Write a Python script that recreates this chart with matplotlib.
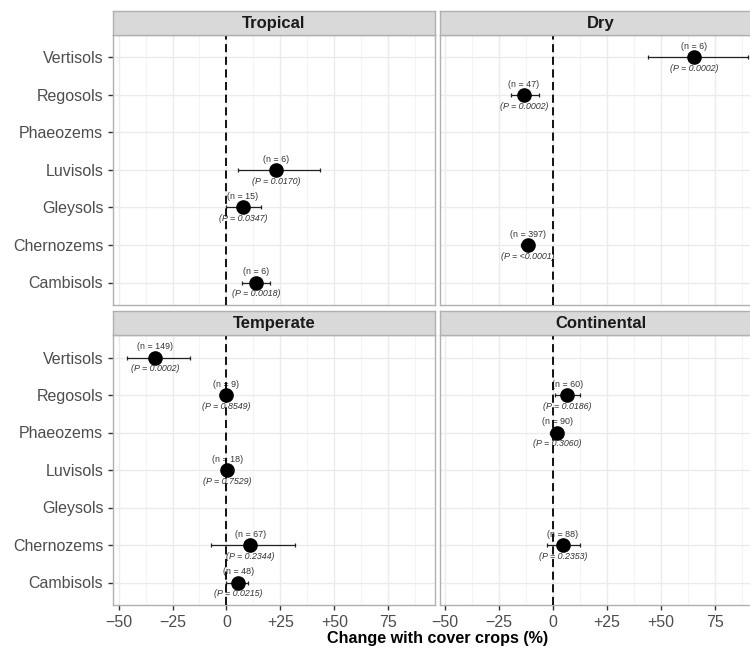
import numpy as np
import pandas as pd
import matplotlib
matplotlib.use("Agg")
import matplotlib.pyplot as plt
from matplotlib.ticker import FixedLocator

plt.rcParams["font.family"] = ["Liberation Sans", "DejaVu Sans"]

# ── Data ──────────────────────────────────────────────────────────────────────
CLIMATES = ["Tropical", "Dry", "Temperate", "Continental"]
SOILS = ["Cambisols", "Chernozems", "Gleysols", "Luvisols",
         "Phaeozems", "Regosols", "Vertisols"]          # bottom -> top

climate = ["Tropical", "Tropical", "Tropical",
           "Dry", "Dry", "Dry",
           "Temperate", "Temperate", "Temperate", "Temperate", "Temperate",
           "Continental", "Continental", "Continental"]
soil = ["Luvisols", "Gleysols", "Cambisols",
        "Vertisols", "Regosols", "Chernozems",
        "Vertisols", "Regosols", "Luvisols", "Chernozems", "Cambisols",
        "Regosols", "Phaeozems", "Chernozems"]
change = [23.2, 7.7, 13.9,
          65.4, -13.5, -11.6,
          -33.0, -0.3, 0.3, 11.1, 5.4,
          6.7, 2.0, 4.6]
ci_low = [5.4, 0.0, 7.4,
          44.1, -19.6, -14.7,
          -46.1, -3.0, -2.0, -7.0, -0.3,
          0.8, -1.5, -3.0]
ci_high = [43.3, 16.2, 20.4,
           90.2, -6.6, -9.3,
           -17.0, 2.5, 2.5, 31.7, 10.0,
           12.4, 4.6, 12.4]
n_obs = [6, 15, 6,
         6, 47, 397,
         149, 9, 18, 67, 48,
         60, 90, 88]
p_text = ["0.0170", "0.0347", "0.0018",
          "0.0002", "0.0002", "<0.0001",
          "0.0002", "0.8549", "0.7529", "0.2344", "0.0215",
          "0.0186", "0.3060", "0.2353"]

XTICKS = [-50, -25, 0, 25, 50, 75]
XTICKLABELS = ["\u221250", "\u221225", "0", "+25", "+50", "75"]

df = pd.DataFrame({"climate": climate, "soil": soil, "change": change,
                   "lo": ci_low, "hi": ci_high, "n": n_obs, "p": p_text})

# ── Layout (pixel positions of the original panels) ───────────────────────────
W, H = 750, 648
fig = plt.figure(figsize=(W / 100, H / 100), dpi=100)

panel_w = 322
lefts = [113, 439.6]
tops = [35, 335]       # top of plotting area (below strip)
panel_h = 270
strip_h = 24

GRID = "#ebebeb"
BORDER = "#b0b0b0"
TXT = "#4d4d4d"

for i, clim in enumerate(CLIMATES):
    col, row = i % 2, i // 2
    x0, y0 = lefts[col], tops[row]
    ax = fig.add_axes([x0 / W, 1 - (y0 + panel_h) / H, panel_w / W, panel_h / H])
    st = fig.add_axes([x0 / W, 1 - y0 / H, panel_w / W, strip_h / H])

    # strip
    st.set_facecolor("#d9d9d9")
    st.set_xticks([]); st.set_yticks([])
    for s in st.spines.values():
        s.set_color(BORDER)
        s.set_linewidth(1.0)
    st.text(0.5, 0.48, clim, ha="center", va="center", fontsize=12,
            fontweight="bold", color="#1a1a1a", transform=st.transAxes)

    # panel
    ax.set_xlim(-52.6, 96.7)
    ax.set_ylim(0.4, 7.6)
    ax.xaxis.set_major_locator(FixedLocator(XTICKS))
    ax.xaxis.set_minor_locator(FixedLocator([-37.5, -12.5, 12.5, 37.5, 62.5, 87.5]))
    ax.set_yticks(range(1, len(SOILS) + 1))
    ax.grid(True, which="major", color=GRID, lw=1.0)
    ax.grid(True, which="minor", axis="x", color="#f4f4f4", lw=0.8)
    ax.set_axisbelow(True)
    for s in ax.spines.values():
        s.set_color(BORDER)
        s.set_linewidth(1.0)
    ax.tick_params(axis="both", which="major", length=3.5, width=1.0,
                   color="#333333", labelcolor=TXT, labelsize=11.5)
    ax.tick_params(axis="both", which="minor", length=0)

    if col == 0:
        ax.set_yticklabels(SOILS)
    else:
        ax.set_yticklabels([])
        ax.tick_params(axis="y", length=0)
    if row == 1:
        ax.set_xticklabels(XTICKLABELS)
    else:
        ax.set_xticklabels([])
        ax.tick_params(axis="x", length=0)

    sub = df[df["climate"] == clim]
    ypos = [SOILS.index(s) + 1 for s in sub["soil"]]
    xerr = [sub["change"] - sub["lo"], sub["hi"] - sub["change"]]
    ax.errorbar(sub["change"], ypos, xerr=xerr, fmt="none", ecolor="#222222",
                elinewidth=0.9, capsize=1.6, capthick=0.9, zorder=3)
    ax.plot(sub["change"], ypos, "o", color="black", ms=9.5, zorder=4)

    for xv, yv, nn, pp in zip(sub["change"], ypos, sub["n"], sub["p"]):
        ax.annotate(f"(n = {nn})", (xv, yv), xytext=(0, 7.8),
                    textcoords="offset points", ha="center", va="center",
                    fontsize=6.4, color="#333333", zorder=5)
        ax.annotate(f"(P = {pp})", (xv, yv), xytext=(0, -8.0),
                    textcoords="offset points", ha="center", va="center",
                    fontsize=6.4, style="italic", color="#333333", zorder=5)

    ax.axvline(0, color="black", lw=1.3, linestyle=(0, (4.5, 2.5)), zorder=6)

fig.text(438 / W, 1 - 638 / H, "Change with cover crops (%)", ha="center",
         va="center", fontsize=11.6, fontweight="bold", color="black")

fig.savefig("out.png", dpi=100)
